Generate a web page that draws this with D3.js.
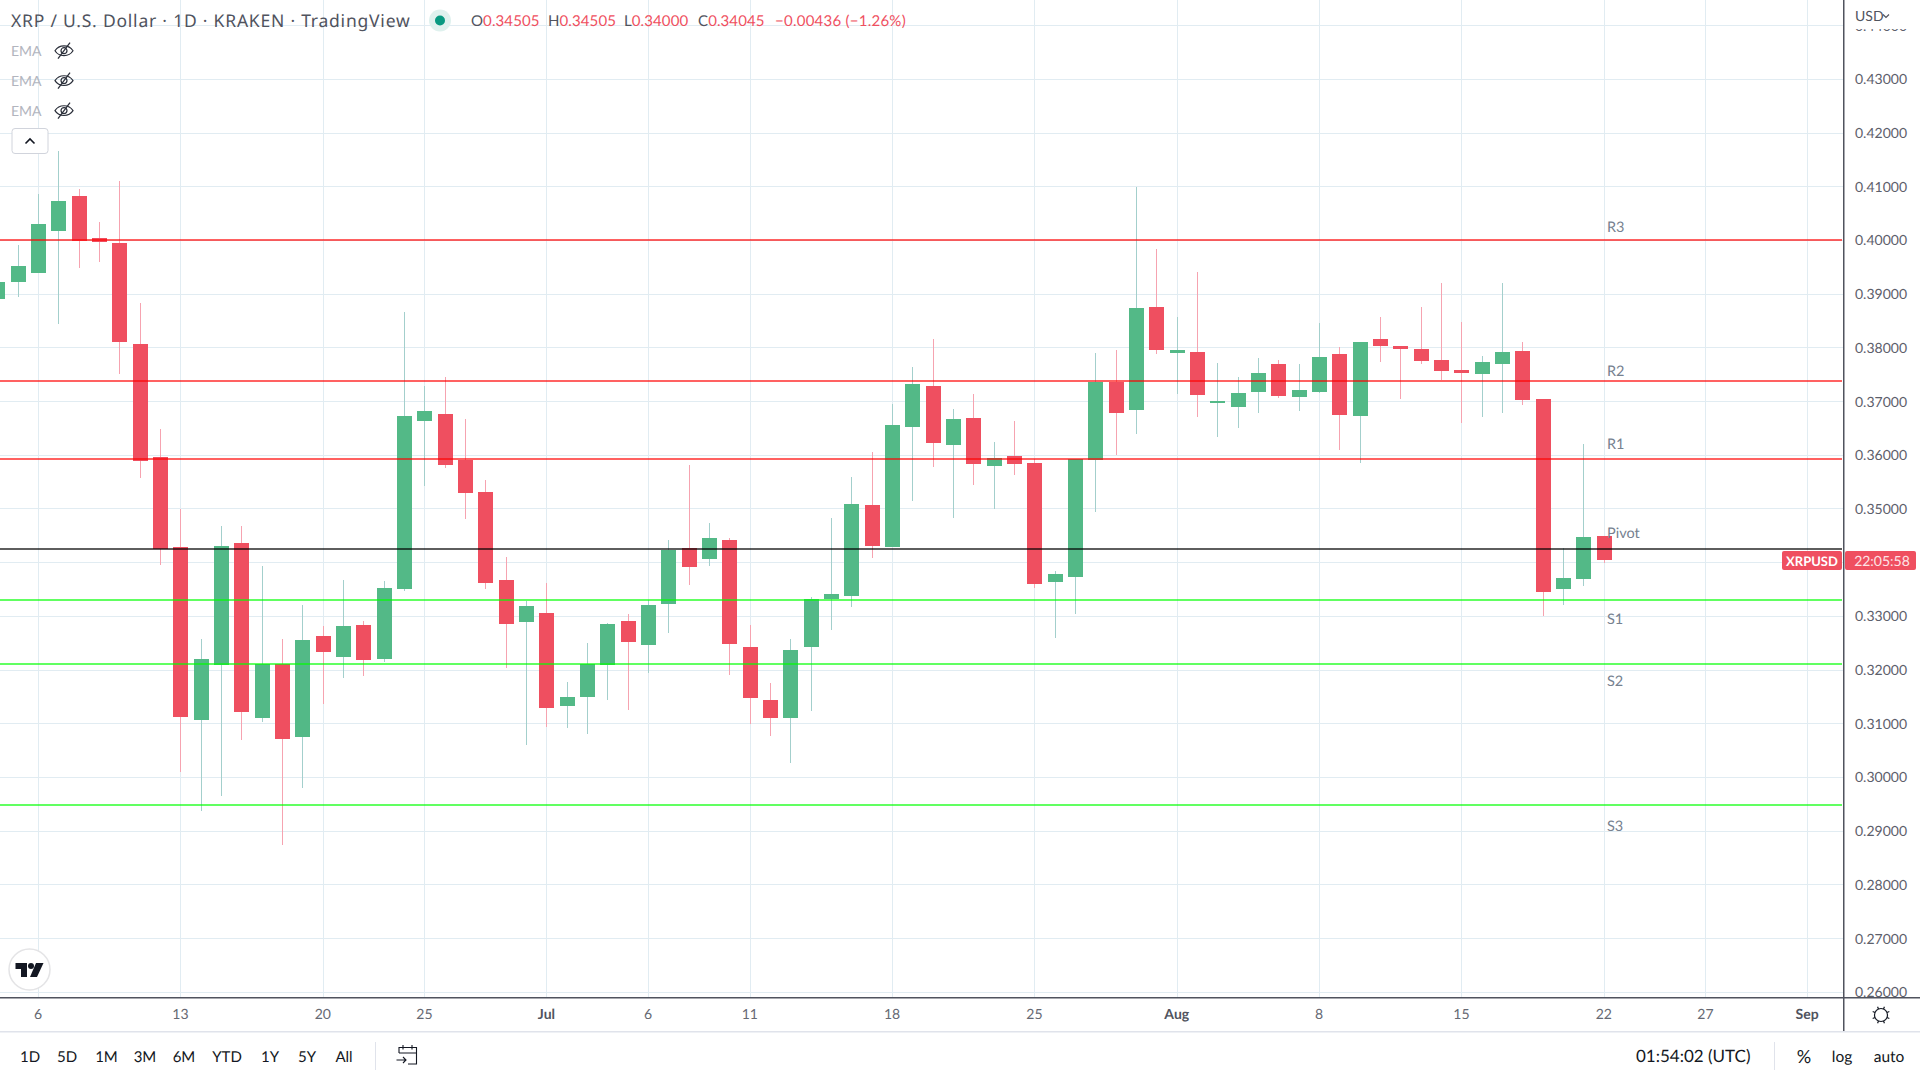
<!DOCTYPE html>
<html>
<head>
<meta charset="utf-8">
<script src="https://cdn.jsdelivr.net/npm/d3@7"></script>
<style>
  html, body { margin: 0; padding: 0; background: #fff; overflow: hidden; }
  svg { display: block; font-family: Lato, 'Noto Sans', sans-serif; }
  text { text-rendering: geometricPrecision; }
</style>
</head>
<body>
<div id="chart"></div>
<script>
const firstDay = '2022-06-04'
const opens = [0.38909, 0.39226, 0.39393, 0.40175, 0.40827, 0.40045, 0.39952, 0.38071, 0.35967, 0.34291,
  0.3107, 0.32094, 0.34366, 0.31107, 0.32113, 0.30754, 0.32634, 0.32243, 0.32839, 0.32206,
  0.33509, 0.36638, 0.36768, 0.35911, 0.35316, 0.33677, 0.32895, 0.33063, 0.31331, 0.31499,
  0.32094, 0.32914, 0.32467, 0.3323, 0.34273, 0.34068, 0.34422, 0.3243, 0.31443, 0.31107,
  0.3243, 0.33323, 0.33379, 0.35073, 0.34291, 0.36526, 0.37289, 0.3619, 0.36693, 0.358,
  0.35986, 0.35856, 0.3364, 0.33733, 0.35911, 0.37364, 0.36842, 0.3876, 0.37904, 0.37923,
  0.36973, 0.36898, 0.37178, 0.37699, 0.37085, 0.37178, 0.37885, 0.36731, 0.38165, 0.38034,
  0.37978, 0.37773, 0.37587, 0.37513, 0.37699, 0.37941, 0.37047, 0.33509, 0.33695, 0.34505]
const highs = [0.39226, 0.39915, 0.40864, 0.41665, 0.40957, 0.40343, 0.41106, 0.38835, 0.36489, 0.34999,
  0.32578, 0.34682, 0.34682, 0.33937, 0.32578, 0.33211, 0.32821, 0.33677, 0.32914, 0.33658,
  0.38668, 0.37289, 0.37457, 0.36675, 0.35539, 0.34105, 0.33286, 0.33621, 0.31778, 0.32504,
  0.32877, 0.33044, 0.33305, 0.34422, 0.35818, 0.34738, 0.34459, 0.32839, 0.31759, 0.32578,
  0.3336, 0.34831, 0.35595, 0.3606, 0.36953, 0.37643, 0.38165, 0.36861, 0.37141, 0.36247,
  0.36638, 0.3593, 0.33845, 0.3593, 0.37904, 0.3796, 0.40995, 0.3984, 0.38574, 0.39412,
  0.37717, 0.37457, 0.37811, 0.37773, 0.37699, 0.38463, 0.38016, 0.38109, 0.38574, 0.38034,
  0.3876, 0.39207, 0.38481, 0.37848, 0.39207, 0.38109, 0.37047, 0.34273, 0.3621, 0.34505]
const lows = [0.38909, 0.38946, 0.39393, 0.38444, 0.39486, 0.39598, 0.37513, 0.35576, 0.33956, 0.30102,
  0.29376, 0.29655, 0.30698, 0.31033, 0.28743, 0.29804, 0.31368, 0.31852, 0.31889, 0.3215,
  0.33472, 0.35427, 0.35762, 0.34813, 0.33509, 0.32038, 0.30605, 0.3094, 0.30921, 0.3081,
  0.31443, 0.31257, 0.31946, 0.3269, 0.33584, 0.33937, 0.31908, 0.30996, 0.30773, 0.3027,
  0.31238, 0.32746, 0.33174, 0.34087, 0.34291, 0.35148, 0.35781, 0.34831, 0.35446, 0.34999,
  0.35632, 0.33528, 0.32597, 0.33044, 0.34943, 0.36005, 0.36396, 0.37885, 0.37141, 0.36712,
  0.36339, 0.36507, 0.36787, 0.37066, 0.36824, 0.37159, 0.36098, 0.35856, 0.37736, 0.37047,
  0.37699, 0.37401, 0.366, 0.36712, 0.36787, 0.36935, 0.33007, 0.33211, 0.33565, 0.34]
const closes = [0.39226, 0.39524, 0.40306, 0.40734, 0.39989, 0.39971, 0.38109, 0.35893, 0.34254, 0.31126,
  0.32206, 0.3431, 0.31219, 0.32113, 0.30717, 0.3256, 0.32336, 0.32821, 0.32188, 0.33528,
  0.36731, 0.36824, 0.35818, 0.35297, 0.33621, 0.32858, 0.33193, 0.31294, 0.31499, 0.32113,
  0.32858, 0.32523, 0.33211, 0.34236, 0.33919, 0.34459, 0.32486, 0.3148, 0.31107, 0.32374,
  0.33323, 0.33417, 0.35092, 0.3431, 0.36563, 0.37327, 0.36228, 0.36675, 0.35837, 0.35949,
  0.35837, 0.33602, 0.33789, 0.3593, 0.37364, 0.36787, 0.38742, 0.3796, 0.3796, 0.37122,
  0.3701, 0.37159, 0.37532, 0.37103, 0.37215, 0.37829, 0.36749, 0.38109, 0.38034, 0.37978,
  0.37755, 0.37569, 0.37532, 0.37736, 0.37923, 0.37029, 0.33453, 0.33714, 0.34478, 0.34045]

const levelNames = ['R3', 'R2', 'R1', 'Pivot', 'S1', 'S2', 'S3']
const levelValues = [0.4, 0.37382, 0.35936, 0.34254, 0.33305, 0.32113, 0.29488]
const levelColors = ['#ff0000', '#ff0000', '#ff0000', '#000000', '#00ff00', '#00ff00', '#00ff00']
const levelLabelY = [227, 371, 444, 533, 619, 681, 826]

const priceTicks = [0.26, 0.27, 0.28, 0.29, 0.30, 0.31, 0.32, 0.33, 0.34, 0.35, 0.36, 0.37, 0.38, 0.39, 0.40, 0.41, 0.42, 0.43, 0.44]
const dateTicks = ['2022-06-06', '2022-06-13', '2022-06-20', '2022-06-25', '2022-07-01', '2022-07-06', '2022-07-11', '2022-07-18',
  '2022-07-25', '2022-08-01', '2022-08-08', '2022-08-15', '2022-08-22', '2022-08-27', '2022-09-01']
const dateLabels = ['6', '13', '20', '25', 'Jul', '6', '11', '18', '25', 'Aug', '8', '15', '22', '27', 'Sep']
const rangeButtons = ['1D', '5D', '1M', '3M', '6M', 'YTD', '1Y', '5Y', 'All']
const rangeButtonX = [30, 67, 106.5, 145, 184, 227, 270, 307, 344]

const GREEN = '#53b987'
const RED = '#ef4f60'
const GREEN_WICK = '#a3cfcc'
const RED_WICK = '#f6a3b0'
const GRID = '#e1ecf2'
const AXIS = '#50535e'
const PANE_RIGHT = 1843
const PANE_BOTTOM = 997

const svg = d3.select('#chart').append('svg').attr('width', 1920).attr('height', 1080)
svg.append('rect').attr('width', 1920).attr('height', 1080).attr('fill', '#fff')

const day = d => new Date(d + 'T00:00:00Z')
const x = d3.scaleUtc().domain([day('2022-06-06'), day('2022-08-22')]).range([38.6, 1604.3])
const y = d3.scaleLinear().domain([0.26, 0.43]).range([992.3, 79.3])

const candles = opens.map((open, i) => ({
  date: d3.utcDay.offset(day(firstDay), i),
  open,
  high: highs[i],
  low: lows[i],
  close: closes[i],
}))

// grid
const grid = svg.append('g')
grid.selectAll('.hgrid').data(priceTicks).join('rect')
  .attr('x', 0)
  .attr('y', d => Math.floor(y(d)))
  .attr('width', PANE_RIGHT)
  .attr('height', 1)
  .attr('fill', GRID)
grid.selectAll('.vgrid').data(dateTicks).join('rect')
  .attr('x', d => Math.floor(x(day(d))))
  .attr('y', 0)
  .attr('width', 1)
  .attr('height', PANE_BOTTOM)
  .attr('fill', GRID)

// candles
const candle = svg.append('g').selectAll('g').data(candles).join('g')
candle.append('rect')
  .attr('x', d => Math.floor(x(d.date)))
  .attr('y', d => Math.round(y(d.high)))
  .attr('width', 1)
  .attr('height', d => Math.max(1, Math.round(y(d.low)) - Math.round(y(d.high))))
  .attr('fill', d => d.close >= d.open ? GREEN_WICK : RED_WICK)
candle.append('rect')
  .attr('x', d => Math.floor(x(d.date)) - 7)
  .attr('y', d => Math.round(y(Math.max(d.open, d.close))))
  .attr('width', 15)
  .attr('height', d => Math.max(1, Math.round(y(Math.min(d.open, d.close))) - Math.round(y(Math.max(d.open, d.close)))))
  .attr('fill', d => d.close >= d.open ? GREEN : RED)

// pivot levels
svg.append('g').selectAll('rect').data(levelValues).join('rect')
  .attr('x', 0)
  .attr('y', d => Math.round(y(d)) - 1)
  .attr('width', PANE_RIGHT - 1)
  .attr('height', 2)
  .attr('fill', (d, i) => levelColors[i])
  .attr('opacity', (d, i) => levelColors[i] === '#000000' ? 0.63 : 0.62)
svg.append('g').selectAll('text').data(levelNames).join('text')
  .attr('x', 1607)
  .attr('y', (d, i) => levelLabelY[i])
  .attr('dy', '0.35em')
  .attr('font-size', 14.5)
  .attr('fill', '#76818f')
  .text(d => d)

// price axis
const priceAxis = svg.append('g')
  .attr('transform', `translate(${PANE_RIGHT},0)`)
  .call(d3.axisRight(y).tickValues(priceTicks).tickFormat(d3.format('.5f')).tickSize(0).tickPadding(12))
priceAxis.select('.domain').remove()
priceAxis.selectAll('text').attr('font-family', 'Lato').attr('font-size', 14).attr('fill', '#5d606b')

// cover over the labels that run out of the pane
svg.append('rect').attr('x', 1845).attr('y', 0).attr('width', 75).attr('height', 29).attr('fill', '#fff')
svg.append('text').attr('x', 1855).attr('y', 16).attr('dy', '0.35em').attr('font-size', 14).attr('fill', '#50535e').text('USD')
svg.append('path').attr('d', 'M1883 14.5 l3 3 l3 -3').attr('fill', 'none').attr('stroke', '#50535e').attr('stroke-width', 1.2)
svg.append('rect').attr('x', 0).attr('y', PANE_BOTTOM).attr('width', 1920).attr('height', 83).attr('fill', '#fff')

// time axis
const timeAxis = svg.append('g')
  .attr('transform', `translate(-1,${PANE_BOTTOM})`)
  .call(d3.axisBottom(x)
    .tickValues(dateTicks.map(day))
    .tickFormat((d, i) => dateLabels[i])
    .tickSize(0)
    .tickPadding(12))
timeAxis.select('.domain').remove()
timeAxis.selectAll('text')
  .attr('font-family', 'Lato')
  .attr('font-size', 14)
  .attr('fill', (d, i) => /[a-z]/i.test(dateLabels[i]) ? '#50535e' : '#666973')
  .attr('font-weight', (d, i) => /[a-z]/i.test(dateLabels[i]) ? 700 : 400)

// frame
svg.append('rect').attr('x', 0).attr('y', 997).attr('width', 1920).attr('height', 1.5).attr('fill', AXIS)
svg.append('rect').attr('x', PANE_RIGHT).attr('y', 0).attr('width', 1.5).attr('height', 1031).attr('fill', AXIS)
svg.append('rect').attr('x', 0).attr('y', 1031).attr('width', 1920).attr('height', 1.5).attr('fill', '#e0e3eb')

// price tag
const tagY = 561
svg.append('rect').attr('x', 1782).attr('y', tagY - 10).attr('width', 60).attr('height', 19).attr('rx', 2).attr('fill', RED)
svg.append('rect').attr('x', 1845).attr('y', tagY - 10).attr('width', 71).attr('height', 19).attr('rx', 2).attr('fill', RED)
svg.append('text').attr('x', 1812).attr('y', tagY).attr('dy', '0.35em').attr('text-anchor', 'middle')
  .attr('font-size', 13).attr('font-weight', 700).attr('fill', '#fff').text('XRPUSD')
svg.append('text').attr('x', 1882).attr('y', tagY).attr('dy', '0.35em').attr('text-anchor', 'middle')
  .attr('font-size', 14).attr('fill', '#fde3e6').text('22:05:58')

// legend
svg.append('text').attr('x', 11).attr('y', 21).attr('dy', '0.35em').attr('font-size', 17.5).attr('font-family', "'Noto Sans'")
  .attr('letter-spacing', 0.78).attr('fill', '#50535e')
  .text('XRP / U.S. Dollar · 1D · KRAKEN · TradingView')
svg.append('circle').attr('cx', 440).attr('cy', 20.5).attr('r', 11).attr('fill', '#dff1ee')
svg.append('circle').attr('cx', 440).attr('cy', 20.5).attr('r', 5).attr('fill', '#089981')

const ohlcLetters = ['O', 'H', 'L', 'C']
const ohlcValues = ['0.34505', '0.34505', '0.34000', '0.34045']
const ohlcX = [471, 548, 624, 698]
ohlcLetters.forEach((letter, i) => {
  const t = svg.append('text').attr('x', ohlcX[i]).attr('y', 21).attr('dy', '0.35em').attr('font-size', 15)
    .attr('letter-spacing', 0.1)
  t.append('tspan').attr('fill', '#50535e').text(letter)
  t.append('tspan').attr('fill', RED).text(ohlcValues[i])
})
svg.append('text').attr('x', 775).attr('y', 21).attr('dy', '0.35em').attr('font-size', 15).attr('letter-spacing', 0.25).attr('fill', RED).text('−0.00436 (−1.26%)')

// hidden EMA rows
const emaY = [50.7, 80.6, 110.6]
emaY.forEach(cy => {
  svg.append('text').attr('x', 11).attr('y', cy).attr('dy', '0.35em').attr('font-size', 14).attr('fill', '#b2b5be').text('EMA')
  const eye = svg.append('g').attr('transform', `translate(64,${cy})`).attr('fill', 'none').attr('stroke', '#2a2e39').attr('stroke-width', 1.2)
  eye.append('path').attr('d', 'M-9 0 C-5 -6.5 5 -6.5 9 0 C5 6.5 -5 6.5 -9 0 Z')
  eye.append('circle').attr('r', 3)
  eye.append('path').attr('d', 'M-6 8 L6 -8')
})
svg.append('rect').attr('x', 12).attr('y', 128.5).attr('width', 36).attr('height', 25).attr('rx', 3).attr('fill', '#fff').attr('stroke', '#d1d4dc')
svg.append('path').attr('d', 'M25.5 143.5 L30 139 L34.5 143.5').attr('fill', 'none').attr('stroke', '#131722').attr('stroke-width', 1.6)

// logo
svg.append('circle').attr('cx', 29.5).attr('cy', 969.5).attr('r', 20.5).attr('fill', '#fff').attr('stroke', '#e4e4e6').attr('stroke-width', 1.5)
const logo = svg.append('g').attr('transform', 'translate(15.5,963)').attr('fill', '#131722')
logo.append('path').attr('d', 'M0 0 H11.5 V14 H5.5 V6 H0 Z')
logo.append('circle').attr('cx', 15.5).attr('cy', 3).attr('r', 3)
logo.append('path').attr('d', 'M20.5 0 H28 L21.5 14 H14.5 Z')

// bottom toolbar
svg.append('g').selectAll('text').data(rangeButtons).join('text')
  .attr('x', (d, i) => rangeButtonX[i])
  .attr('y', 1056.5)
  .attr('dy', '0.35em')
  .attr('text-anchor', 'middle')
  .attr('font-size', 15)
  .attr('fill', '#131722')
  .text(d => d)
svg.append('rect').attr('x', 375).attr('y', 1042).attr('width', 1).attr('height', 28).attr('fill', '#e0e3eb')
const cal = svg.append('g').attr('transform', 'translate(407,1055)').attr('fill', 'none').attr('stroke', '#131722').attr('stroke-width', 1.1)
cal.append('path').attr('d', 'M-8 -2 V-7.5 H9.5 V9 H1 M-8 -2 H9.5 M-4 -10 V-5.5 M5 -10 V-5.5')
cal.append('path').attr('d', 'M-10.5 5 H-1 M-4 2 L-1 5 L-4 8')

svg.append('rect').attr('x', 1774).attr('y', 1042).attr('width', 1).attr('height', 28).attr('fill', '#e0e3eb')
svg.append('text').attr('x', 1636).attr('y', 1056.5).attr('dy', '0.35em').attr('font-size', 17).attr('fill', '#131722').text('01:54:02 (UTC)')
const scaleButtons = ['%', 'log', 'auto']
const scaleButtonX = [1804, 1842, 1889]
svg.append('g').selectAll('text').data(scaleButtons).join('text')
  .attr('x', (d, i) => scaleButtonX[i])
  .attr('y', 1056.5)
  .attr('dy', '0.35em')
  .attr('text-anchor', 'middle')
  .attr('font-size', (d, i) => i === 0 ? 18 : 15.5)
  .attr('fill', '#131722')
  .text(d => d)

// settings icon
const gear = svg.append('g').attr('transform', 'translate(1881,1015)').attr('fill', 'none').attr('stroke', '#131722').attr('stroke-width', 1.2)
gear.append('circle').attr('r', 6.5)
d3.range(8).forEach(i => {
  const a = i * Math.PI / 4 + Math.PI / 8
  gear.append('line')
    .attr('x1', 6.5 * Math.cos(a)).attr('y1', 6.5 * Math.sin(a))
    .attr('x2', 9 * Math.cos(a)).attr('y2', 9 * Math.sin(a))
})
</script>
</body>
</html>
